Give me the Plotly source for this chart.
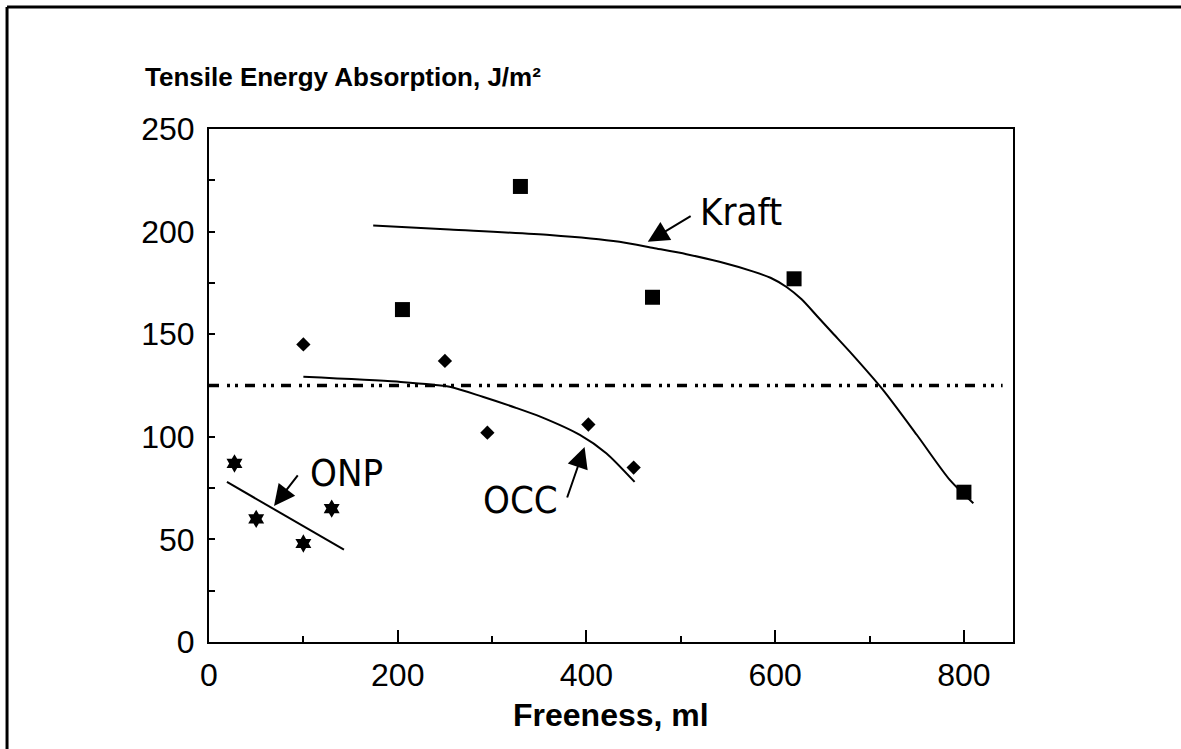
import plotly.graph_objects as go

# Measured points
kraft_x = [205, 330, 470, 620, 800]
kraft_y = [162, 222, 168, 177, 73]
occ_x = [100, 250, 295, 402, 450]
occ_y = [145, 137, 102, 106, 85]
onp_x = [27, 50, 100, 130]
onp_y = [87, 60, 48, 65]

# Fitted trend curves
kraft_fit_x = [174, 255, 361, 435, 471, 506, 541, 577, 595, 612, 628, 645, 662, 679, 714, 750, 785, 810]
kraft_fit_y = [203, 201, 198.3, 195, 192, 189, 185.3, 180.5, 177.5, 173, 167, 158.5, 150, 141.5, 123, 101, 79, 67.6]
occ_fit_x = [100, 199, 255, 290, 326, 351, 393, 421, 451]
occ_fit_y = [129.3, 126.9, 124.4, 119.5, 114, 109.8, 100.9, 92, 78]
onp_fit_x = [19, 143]
onp_fit_y = [78, 45]

# Reference level
ref_x = [0, 841]
ref_y = [125, 125]

x_ticks = [0, 200, 400, 600, 800]
y_ticks = [0, 50, 100, 150, 200, 250]

FONT = "Liberation Sans, Arial, Helvetica, sans-serif"
NARROW = "Liberation Sans Narrow, Arial Narrow, DejaVu Sans Condensed, sans-serif"

fig = go.Figure()

fig.add_trace(go.Scatter(x=ref_x, y=ref_y, mode="lines",
                         line=dict(color="black", width=3.5, dash="10px,8px,3px,5px,3px,7px")))
fig.add_trace(go.Scatter(x=kraft_fit_x, y=kraft_fit_y, mode="lines",
                         line=dict(color="black", width=2, shape="spline", smoothing=0.7)))
fig.add_trace(go.Scatter(x=occ_fit_x, y=occ_fit_y, mode="lines",
                         line=dict(color="black", width=2, shape="spline", smoothing=0.7)))
fig.add_trace(go.Scatter(x=onp_fit_x, y=onp_fit_y, mode="lines",
                         line=dict(color="black", width=2)))

fig.add_trace(go.Scatter(x=kraft_x, y=kraft_y, mode="markers",
                         marker=dict(symbol="square", size=15, color="black")))
fig.add_trace(go.Scatter(x=occ_x, y=occ_y, mode="markers",
                         marker=dict(symbol="diamond", size=11, color="black")))
fig.add_trace(go.Scatter(x=onp_x, y=onp_y, mode="markers",
                         marker=dict(symbol="hexagram", size=14, color="black")))

# Curve labels with pointer arrows
labels = [
    ("Kraft", 741, 212, 465, 195, 512, 208),
    ("ONP", 347, 473, 68.9, 66.3, 95.3, 81.9),
    ("OCC", 521, 500, 398, 95, 379, 69.7),
]
for text, px, py, hx, hy, tx, ty in labels:
    fig.add_annotation(x=(px - 209) / 0.944, y=(642 - py) / 2.052, text=text,
                       showarrow=False, xanchor="center", yanchor="middle",
                       font=dict(family=NARROW, size=38, color="black"))
    fig.add_annotation(x=hx, y=hy, ax=tx, ay=ty, axref="x", ayref="y", text="",
                       showarrow=True, arrowhead=2, arrowsize=2.1, arrowwidth=2,
                       arrowcolor="black")

fig.add_annotation(xref="paper", yref="paper", x=-0.0821, y=1.102,
                   text="<b>Tensile Energy Absorption, J/m²</b>", showarrow=False,
                   xanchor="left", yanchor="middle",
                   font=dict(family=FONT, size=26, color="black"))
fig.add_annotation(xref="paper", yref="paper", x=0.5, y=-0.1423,
                   text="<b>Freeness, ml</b>", showarrow=False,
                   xanchor="center", yanchor="middle",
                   font=dict(family=FONT, size=32, color="black"))

# Outer frame (top and left edges)
fig.add_shape(type="line", xref="paper", yref="paper", x0=-0.2512, x1=1.209,
              y0=1.2378, y1=1.2378, line=dict(color="black", width=3))
fig.add_shape(type="line", xref="paper", yref="paper", x0=-0.2512, x1=-0.2512,
              y0=1.2378, y1=-0.25, line=dict(color="black", width=3))

fig.update_xaxes(range=[0, 852], tickvals=x_ticks, ticktext=[str(v) for v in x_ticks],
                 showline=True, linecolor="black", linewidth=2, mirror=True,
                 ticks="inside", ticklen=12, tickwidth=1.5, tickcolor="black",
                 minor=dict(dtick=100, tick0=0, ticks="inside", ticklen=6, tickcolor="black", tickwidth=1.5),
                 showgrid=False, zeroline=False,
                 tickfont=dict(family=FONT, size=32, color="black"), ticklabelstandoff=4)
fig.update_yaxes(range=[0, 250], tickvals=y_ticks, ticktext=[str(v) for v in y_ticks],
                 showline=True, linecolor="black", linewidth=2, mirror=True,
                 ticks="inside", ticklen=6, tickwidth=1.5, tickcolor="black",
                 minor=dict(dtick=25, tick0=0, ticks="inside", ticklen=6, tickcolor="black", tickwidth=1.5),
                 showgrid=False, zeroline=False,
                 tickfont=dict(family=FONT, size=32, color="black"), ticklabelstandoff=6)

fig.update_layout(width=1181, height=749, margin=dict(l=209, r=168, t=129, b=107),
                  plot_bgcolor="white", paper_bgcolor="white", showlegend=False)

fig.write_html("out.html")
